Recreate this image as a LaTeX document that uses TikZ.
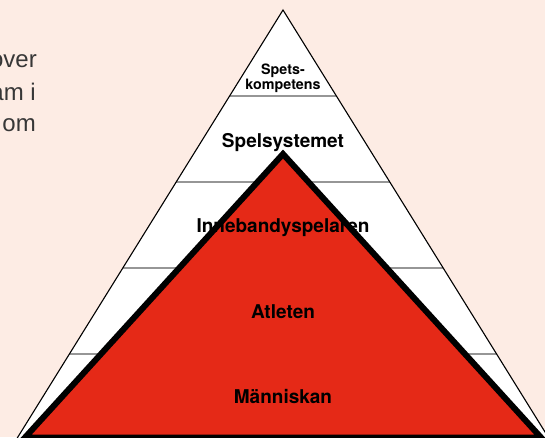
\documentclass[tikz,border=0pt]{standalone}
\usepackage{fontspec}
\setmainfont{TeX Gyre Heros}
\newfontfamily\sidefont{Liberation Sans}
\definecolor{bg}{RGB}{253,236,228}
\definecolor{pyrred}{RGB}{229,41,23}
\definecolor{txtgray}{RGB}{55,55,55}
\definecolor{divgray}{RGB}{150,150,150}
\begin{document}
\begin{tikzpicture}[x=1pt,y=-1pt,
  lbl/.style={font=\fontsize{19}{19}\selectfont\bfseries, anchor=base, inner sep=0pt},
  smalllbl/.style={font=\fontsize{14.3}{14.3}\selectfont\bfseries, anchor=base, inner sep=0pt},
  sidetxt/.style={font=\sidefont\fontsize{24}{24}\selectfont, text=txtgray, anchor=base east, inner sep=0pt},
  divider/.style={draw=divgray, line width=1.1pt},
  outline/.style={draw=black, line width=1.1pt, line join=miter},
  redtri/.style={fill=pyrred, draw=black, line width=6pt, line join=miter}]
\fill[bg] (0,0) rectangle (545,437);
\useasboundingbox (0,0) rectangle (545,437);
\clip (0,0) rectangle (545,437);
% white pyramid
\coordinate (wa) at (283,10);
\coordinate (wl) at (16,440);
\coordinate (wr) at (550,440);
\fill[white] (wa) -- (wl) -- (wr) -- cycle;
% dividers
\coordinate (d1l) at (229.6,96);  \coordinate (d1r) at (336.4,96);
\coordinate (d2l) at (176.2,182); \coordinate (d2r) at (389.8,182);
\coordinate (d3l) at (122.8,268); \coordinate (d3r) at (443.2,268);
\coordinate (d4l) at (69.4,354);  \coordinate (d4r) at (496.6,354);
\draw[divider] (d1l) -- (d1r);
\draw[divider] (d2l) -- (d2r);
\draw[divider] (d3l) -- (d3r);
\draw[divider] (d4l) -- (d4r);
\draw[outline] (wl) -- (wa) -- (wr);
% red triangle
\coordinate (ra) at (283,154);
\coordinate (rl) at (25,437.5);
\coordinate (rr) at (541,437.5);
\path[redtri] (ra) -- (rl) -- (rr) -- cycle;
% labels
\node[smalllbl] (spets) at (283,74) {Spets-};
\node[smalllbl] (komp) at (283,89.5) {kompetens};
\node[lbl] (spel) at (283,147) {Spelsystemet};
\node[lbl] (inne) at (283,232) {Innebandyspelaren};
\node[lbl] (atl) at (283,318) {Atleten};
\node[lbl] (mann) at (283,403) {Människan};
% side text
\node[sidetxt] (s1) at (37,67) {over};
\node[sidetxt] (s2) at (36,100) {am i};
\node[sidetxt] (s3) at (36,131.5) {om};
\end{tikzpicture}
\end{document}
